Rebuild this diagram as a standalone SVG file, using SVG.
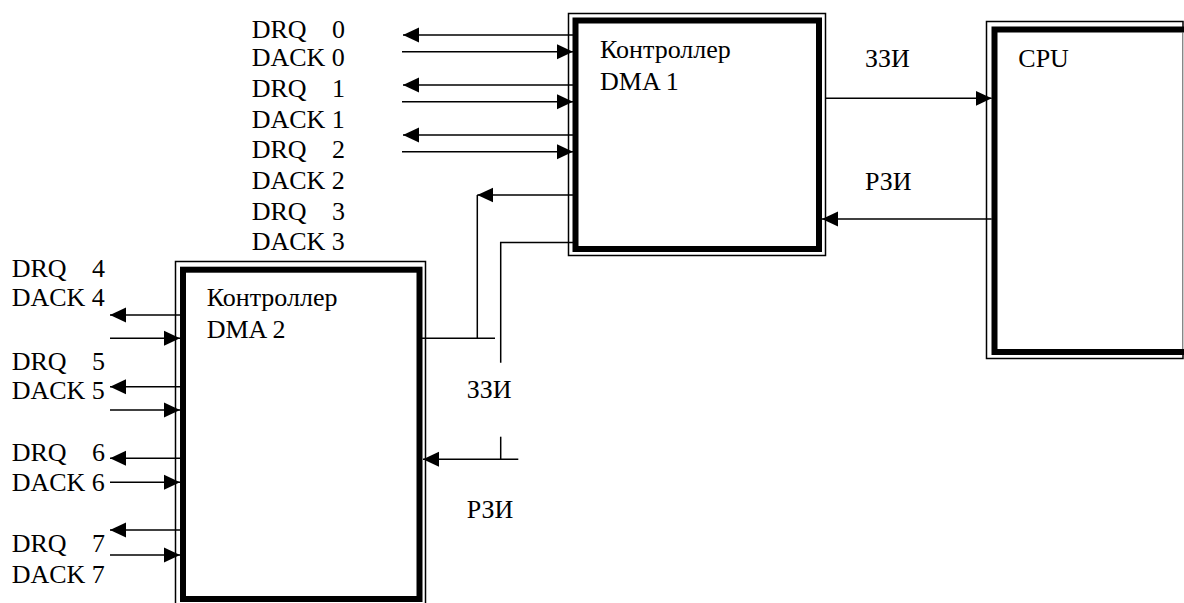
<svg xmlns="http://www.w3.org/2000/svg" width="1184" height="603" viewBox="0 0 1184 603">
  <style>
    text { font-family: "Liberation Serif", "Times New Roman", serif; font-size: 26px; fill: #000; }
    .thin { fill: none; stroke: #000; stroke-width: 1.5; }
    .thick { fill: #fff; stroke: #000; stroke-width: 6; }
    .wire { fill: none; stroke: #000; stroke-width: 1.5; }
    .arr { fill: none; stroke: #000; stroke-width: 1.5; marker-end: url(#ah); }
  </style>
  <defs>
    <marker id="ah" markerUnits="userSpaceOnUse" markerWidth="18" markerHeight="17" refX="16" refY="8" orient="auto">
      <path d="M0,0.5 L16,8 L0,15.5 z" fill="#000"/>
    </marker>
  </defs>
  <rect width="1184" height="603" fill="#fff"/>

  <g id="dma1">
    <rect class="thin" x="568.5" y="13.5" width="257" height="242"/>
    <rect class="thick" x="575.5" y="20.5" width="243.5" height="228.5"/>
    <text x="600" y="58.3">Контроллер</text>
    <text x="600" y="90">DMA 1</text>
  </g>

  <g id="cpu">
    <rect class="thin" x="986.5" y="21.5" width="196.5" height="337"/>
    <rect class="thick" x="994.5" y="29.5" width="200" height="322.5"/>
    <line x1="1182.8" y1="32" x2="1182.8" y2="349" stroke="#555" stroke-width="1"/>
    <text x="1018.3" y="66.7">CPU</text>
  </g>

  <g id="dma2">
    <rect class="thin" x="175.5" y="261.5" width="250" height="360"/>
    <rect class="thick" x="183" y="269.7" width="236.5" height="329.3"/>
    <text x="206.7" y="305.5">Контроллер</text>
    <text x="206.7" y="338.3">DMA 2</text>
  </g>

  <g id="labels-dma1">
    <text x="251.7" y="38.3">DRQ <tspan x="332">0</tspan></text>
    <text x="251.7" y="65.7">DACK 0</text>
    <text x="251.7" y="96.7">DRQ <tspan x="332">1</tspan></text>
    <text x="251.7" y="128.3">DACK 1</text>
    <text x="251.7" y="158.3">DRQ <tspan x="332">2</tspan></text>
    <text x="251.7" y="189">DACK 2</text>
    <text x="251.7" y="220">DRQ <tspan x="332">3</tspan></text>
    <text x="251.7" y="250">DACK 3</text>
  </g>

  <g id="labels-dma2">
    <text x="11.7" y="276.7">DRQ <tspan x="92">4</tspan></text>
    <text x="11.7" y="306">DACK 4</text>
    <text x="11.7" y="370">DRQ <tspan x="92">5</tspan></text>
    <text x="11.7" y="399">DACK 5</text>
    <text x="11.7" y="460.7">DRQ <tspan x="92">6</tspan></text>
    <text x="11.7" y="490.7">DACK 6</text>
    <text x="11.7" y="552.3">DRQ <tspan x="92">7</tspan></text>
    <text x="11.7" y="583.3">DACK 7</text>
  </g>

  <g id="bus-labels">
    <text x="865" y="66.7">ЗЗИ</text>
    <text x="865" y="190">РЗИ</text>
    <text x="466.7" y="398.3">ЗЗИ</text>
    <text x="466.7" y="518.3">РЗИ</text>
  </g>

  <g id="connectors">
    <path class="arr" d="M573,35 H403"/>
    <path class="arr" d="M402,51.7 H573"/>
    <path class="arr" d="M573,85 H403"/>
    <path class="arr" d="M402,101.7 H573"/>
    <path class="arr" d="M573,135 H403"/>
    <path class="arr" d="M402,151.7 H573"/>
    <path class="arr" d="M573,195 H477.3"/>
    <path class="wire" d="M477.3,195 V338.3 M422,338.3 H495"/>
    <path class="wire" d="M573,242.5 H500.7 V362.7"/>
    <path class="wire" d="M500.7,436.7 V459.3"/>
    <path class="arr" d="M518.3,459.3 H423"/>

    <path class="arr" d="M825.5,98.3 H991.7"/>
    <path class="arr" d="M991.7,219 H822"/>

    <path class="arr" d="M180,315 H110"/>
    <path class="arr" d="M110,338.3 H180"/>
    <path class="arr" d="M180,386.7 H110"/>
    <path class="arr" d="M110,410 H180"/>
    <path class="arr" d="M180,458.3 H110"/>
    <path class="arr" d="M110,482.3 H180"/>
    <path class="arr" d="M180,530 H110"/>
    <path class="arr" d="M110,555 H180"/>
  </g>
</svg>
